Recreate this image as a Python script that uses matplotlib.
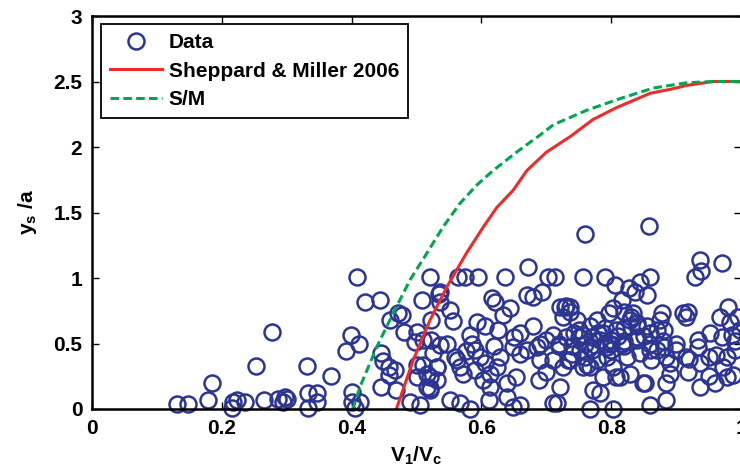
import numpy as np
import matplotlib.pyplot as plt

# measured data (V1/Vc, ys/a)
data_x = [0.278, 0.252, 0.185, 0.178, 0.131, 0.148, 0.215, 0.217, 0.223, 0.236, 0.265, 0.287, 0.297,
          0.408, 0.421, 0.444, 0.472, 0.477, 0.459, 0.48, 0.50, 0.498, 0.51, 0.521, 0.508, 0.534, 0.523,
          0.523, 0.399, 0.412, 0.391, 0.331, 0.369, 0.446, 0.449, 0.457, 0.467, 0.457, 0.446, 0.469,
          0.50, 0.51, 0.50, 0.516, 0.516, 0.521, 0.531, 0.531, 0.49, 0.505, 0.40, 0.40, 0.413, 0.405,
          0.30, 0.295, 0.333, 0.346, 0.346, 0.333,
          0.564, 0.575, 0.595, 0.636, 0.672, 0.703, 0.713, 0.76, 0.536, 0.536, 0.552, 0.557, 0.616,
          0.621, 0.644, 0.634, 0.67, 0.68, 0.693, 0.729, 0.737, 0.726, 0.593, 0.606, 0.626, 0.582,
          0.585, 0.59, 0.577, 0.598, 0.606, 0.613, 0.603, 0.613, 0.611, 0.572, 0.562, 0.536, 0.547,
          0.526, 0.531, 0.521, 0.521, 0.552, 0.567, 0.582, 0.639, 0.649, 0.66, 0.629, 0.649, 0.66,
          0.68, 0.67, 0.685, 0.70, 0.711, 0.69, 0.711, 0.734, 0.654, 0.639, 0.688, 0.721, 0.716,
          0.624, 0.567,
          0.858, 0.937, 0.97, 0.939, 0.929, 0.756, 0.79, 0.806, 0.828, 0.844, 0.86, 0.855, 0.837,
          0.816, 0.803, 0.737, 0.878, 0.875, 0.911, 0.919, 0.916, 0.98, 0.968, 0.983, 0.986, 0.952,
          0.934, 0.934, 0.829, 0.834, 0.819, 0.796, 0.778, 0.767, 0.747, 0.742, 0.757, 0.788, 0.808,
          0.839, 0.855, 0.87, 0.881, 0.783, 0.767, 0.793, 0.816, 0.839, 0.86, 0.881, 0.752, 0.737,
          0.757, 0.778, 0.793, 0.803, 0.824, 0.844, 0.862, 0.885, 0.891, 0.916, 0.937, 0.919, 0.891,
          0.962, 0.978, 0.973, 0.988, 0.978, 0.96, 0.937, 0.885, 0.852, 0.829, 0.814, 0.788, 0.772,
          0.783, 0.767, 0.885, 0.86, 0.767, 0.803,
          0.998, 0.995, 0.99, 0.95, 0.66, 0.69, 0.72, 0.75, 0.80, 0.84, 0.87, 0.90, 0.62, 0.65,
          0.59, 0.56, 0.70, 0.74, 0.78, 0.82, 0.86,
          0.77, 0.79, 0.78, 0.80, 0.76, 0.77, 0.79, 0.82, 0.83, 0.84, 0.85, 0.81, 0.75, 0.73,
          0.72, 0.74, 0.76, 0.80, 0.82, 0.86, 0.88, 0.90, 0.92, 0.95, 0.97, 0.99, 0.721, 0.731,
          0.711, 0.849, 0.808, 0.762, 0.726]
data_y = [0.585, 0.33, 0.20, 0.066, 0.038, 0.038, 0.005, 0.056, 0.07, 0.056, 0.066, 0.074, 0.094,
          1.005, 0.82, 0.83, 0.73, 0.72, 0.68, 0.59, 0.59, 0.51, 0.53, 1.01, 0.83, 0.88, 0.68,
          0.53, 0.565, 0.50, 0.44, 0.33, 0.25, 0.425, 0.37, 0.32, 0.30, 0.26, 0.17, 0.145,
          0.335, 0.335, 0.245, 0.27, 0.17, 0.145, 0.32, 0.22, 0.056, 0.03, 0.13, 0.056, 0.056, 0.005,
          0.08, 0.056, 0.12, 0.12, 0.056, 0.005,
          1.005, 1.005, 1.005, 1.005, 1.086, 1.005, 1.005, 1.336, 0.895, 0.82, 0.755, 0.67, 0.845,
          0.82, 0.77, 0.72, 0.87, 0.857, 0.895, 0.78, 0.74, 0.705, 0.666, 0.63, 0.60, 0.565,
          0.50, 0.45, 0.44, 0.40, 0.35, 0.27, 0.22, 0.17, 0.07, 0.27, 0.375, 0.49, 0.50,
          0.425, 0.32, 0.245, 0.16, 0.07, 0.043, 0.0, 0.094, 0.018, 0.03, 0.40, 0.475, 0.58,
          0.63, 0.45, 0.475, 0.53, 0.565, 0.375, 0.375, 0.375, 0.245, 0.195, 0.22, 0.17, 0.043,
          0.32, 0.32,
          1.40, 1.137, 1.117, 1.05, 1.005, 1.005, 1.005, 0.946, 0.92, 0.97, 1.01, 0.87, 0.895,
          0.83, 0.77, 0.78, 0.73, 0.68, 0.73, 0.74, 0.705, 0.78, 0.705, 0.666, 0.565, 0.58,
          0.53, 0.475, 0.68, 0.73, 0.74, 0.73, 0.68, 0.63, 0.68, 0.58, 0.565, 0.58, 0.60,
          0.63, 0.63, 0.60, 0.60, 0.53, 0.475, 0.475, 0.50, 0.53, 0.50, 0.475, 0.45, 0.375,
          0.32, 0.375, 0.40, 0.32, 0.40, 0.425, 0.375, 0.40, 0.35, 0.40, 0.35, 0.285, 0.27,
          0.41, 0.40, 0.32, 0.26, 0.245, 0.195, 0.17, 0.195, 0.195, 0.27, 0.245, 0.245, 0.145,
          0.12, 0.32, 0.07, 0.03, 0.0, 0.0,
          0.60, 0.70, 0.45, 0.25, 0.42, 0.50, 0.48, 0.55, 0.50, 0.55, 0.45, 0.50, 0.48, 0.55,
          0.30, 0.40, 0.28, 0.48, 0.58, 0.52, 0.58,
          0.55, 0.50, 0.58, 0.53, 0.50, 0.45, 0.62, 0.62, 0.70, 0.66, 0.56, 0.56, 0.60, 0.55,
          0.50, 0.42, 0.40, 0.45, 0.48, 0.45, 0.52, 0.45, 0.38, 0.40, 0.55, 0.52, 0.78, 0.79,
          0.045, 0.20, 0.245, 0.335, 0.32]

# Sheppard & Miller 2006
sm_x = [0.469, 0.495, 0.521, 0.547, 0.577, 0.603, 0.624, 0.649, 0.67, 0.70, 0.737, 0.772, 0.808,
        0.86, 0.891, 0.916, 0.957, 1.0]
sm_y = [0.0, 0.374, 0.68, 0.934, 1.19, 1.39, 1.54, 1.67, 1.82, 1.96, 2.08, 2.21, 2.30,
        2.41, 2.44, 2.47, 2.50, 2.50]

# S/M
s_x = [0.402, 0.413, 0.439, 0.464, 0.49, 0.516, 0.541, 0.567, 0.593, 0.618, 0.654, 0.69, 0.711,
       0.762, 0.814, 0.865, 0.916, 0.957, 1.0]
s_y = [0.0, 0.17, 0.476, 0.73, 0.985, 1.19, 1.39, 1.57, 1.71, 1.82, 1.96, 2.09, 2.17,
       2.28, 2.37, 2.45, 2.49, 2.50, 2.50]

plt.rcParams['font.family'] = 'Liberation Sans'
plt.rcParams['font.weight'] = 'bold'
plt.rcParams['mathtext.fontset'] = 'custom'
plt.rcParams['mathtext.rm'] = 'Liberation Sans:bold'
plt.rcParams['mathtext.it'] = 'Liberation Sans:bold'
plt.rcParams['mathtext.bf'] = 'Liberation Sans:bold'

fig = plt.figure(figsize=(7.4, 4.75), dpi=100)
ax = fig.add_axes([92 / 740, 66 / 475, 649 / 740, 393 / 475])

navy = '#2C3592'
ax.plot(data_x, data_y, 'o', ms=11.5, mfc='none', mec=navy, mew=1.8, label='Data', clip_on=False)
ax.plot(sm_x, sm_y, '-', color='#EE2B2B', lw=2.2, label='Sheppard & Miller 2006')
ax.plot(s_x, s_y, '--', color='#00A651', lw=2.2, dashes=(2.8, 1.4), label='S/M')

ax.set_xlim(0, 1)
ax.set_ylim(0, 3)
ax.set_xticks([0, 0.2, 0.4, 0.6, 0.8, 1])
ax.set_xticklabels(['0', '0.2', '0.4', '0.6', '0.8', '1'])
ax.set_yticks([0, 0.5, 1, 1.5, 2, 2.5, 3])
ax.set_yticklabels(['0', '0.5', '1', '1.5', '2', '2.5', '3'])
ax.tick_params(direction='in', length=5, width=1, top=True, right=True, labelsize=15, pad=7)
for s in ax.spines.values():
    s.set_linewidth(1.8)

ax.set_xlabel(r'V$_1$/V$_c$', fontsize=15, fontweight='bold', labelpad=5)
ax.set_ylabel(r'y$_s$ /a', fontsize=15, fontweight='bold', labelpad=10)

leg = ax.legend(loc='upper left', bbox_to_anchor=(0.0139, 0.98), borderaxespad=0,
                fontsize=15, fancybox=False, framealpha=1, edgecolor='black',
                handlelength=2.5, handletextpad=0.3, labelspacing=0.45, borderpad=0.45)
leg.get_frame().set_linewidth(1.3)

fig.savefig('out.png', dpi=100)
